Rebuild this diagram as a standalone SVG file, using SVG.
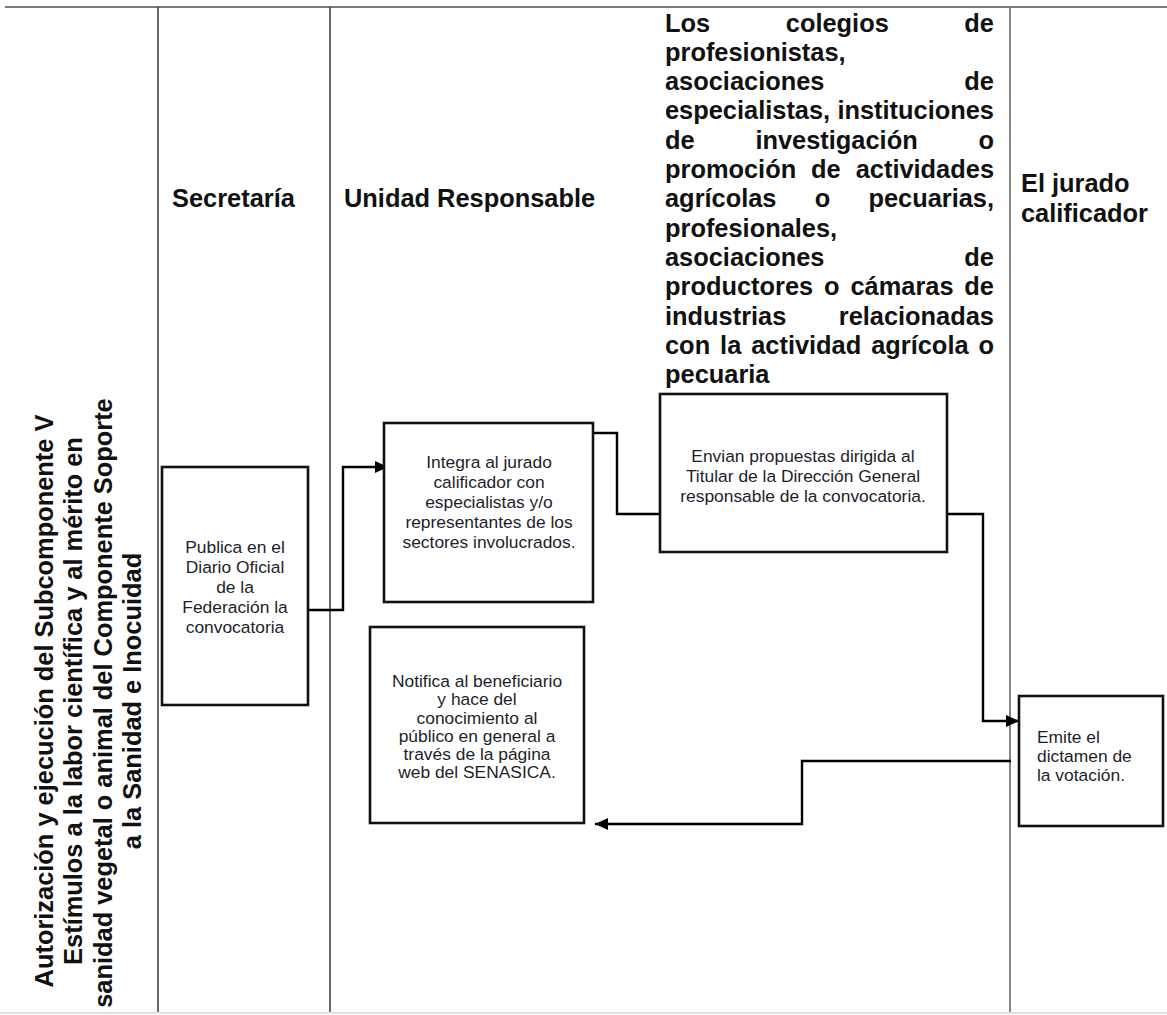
<svg xmlns="http://www.w3.org/2000/svg" width="1167" height="1015" viewBox="0 0 1167 1015">
  <style>
    .hdr { font-family: "Liberation Sans", Arial, sans-serif; font-size: 25.4px; font-weight: bold; fill: #111; }
    .lane { stroke: #444; stroke-width: 1.6; fill: none; }
    .lane2 { stroke: #7a7a7a; stroke-width: 1.8; fill: none; }
    .box { fill: #fff; stroke: #111; stroke-width: 2.6; }
    .txt { font-family: "Liberation Sans", Arial, sans-serif; font-size: 17.4px; fill: #1e1e2a; text-anchor: middle; }
    .txtl { font-family: "Liberation Sans", Arial, sans-serif; font-size: 17.4px; fill: #1e1e2a; }
    .conn { fill: none; stroke: #000; stroke-width: 2.4; }
  </style>
  <defs>
    <marker id="arrow" markerUnits="userSpaceOnUse" markerWidth="14" markerHeight="14" viewBox="0 0 14 14" refX="13" refY="7" orient="auto">
      <path d="M0,1 L13,7 L0,13 Z" fill="#000"/>
    </marker>
  </defs>
  <rect width="1167" height="1015" fill="#fff"/>

  <g id="grid">
    <line class="lane2" x1="5" y1="7" x2="1167" y2="7"/>
    <line class="lane" x1="158" y1="7" x2="158" y2="1013"/>
    <line class="lane" x1="330" y1="7" x2="330" y2="1013"/>
    <line class="lane2" x1="1010" y1="7" x2="1010" y2="1013"/>
    <line x1="0" y1="1013" x2="1167" y2="1013" stroke="#e2e2e2" stroke-width="2"/>
  </g>

  <g id="title" class="hdr" text-anchor="middle">
    <text transform="translate(53,701) rotate(-90)">Autorización y ejecución del Subcomponente V</text>
    <text transform="translate(82,701) rotate(-90)">Estímulos a la labor científica y al mérito en</text>
    <text transform="translate(112,703) rotate(-90)">sanidad vegetal o animal del Componente Soporte</text>
    <text transform="translate(141,701) rotate(-90)">a la Sanidad e Inocuidad</text>
  </g>

  <g id="header-secretaria">
    <text class="hdr" x="172" y="207">Secretaría</text>
  </g>
  <g id="header-unidad">
    <text class="hdr" x="344" y="207">Unidad Responsable</text>
  </g>
  <g id="header-colegios" class="hdr">
    <text x="665" y="31.5">Los</text><text x="785.8" y="31.5">colegios</text><text x="994" y="31.5" text-anchor="end">de</text>
    <text x="665" y="60.8">profesionistas,</text>
    <text x="665" y="90.1">asociaciones</text><text x="994" y="90.1" text-anchor="end">de</text>
    <text x="665" y="119.4">especialistas,</text><text x="994" y="119.4" text-anchor="end">instituciones</text>
    <text x="665" y="148.7">de</text><text x="755.4" y="148.7">investigación</text><text x="994" y="148.7" text-anchor="end">o</text>
    <text x="665" y="178">promoción</text><text x="811.1" y="178">de</text><text x="994" y="178" text-anchor="end">actividades</text>
    <text x="665" y="207.3">agrícolas</text><text x="814.7" y="207.3">o</text><text x="994" y="207.3" text-anchor="end">pecuarias,</text>
    <text x="665" y="236.6">profesionales,</text>
    <text x="665" y="265.9">asociaciones</text><text x="994" y="265.9" text-anchor="end">de</text>
    <text x="665" y="295.2">productores</text><text x="824.1" y="295.2">o</text><text x="850.5" y="295.2">cámaras</text><text x="994" y="295.2" text-anchor="end">de</text>
    <text x="665" y="324.5">industrias</text><text x="994" y="324.5" text-anchor="end">relacionadas</text>
    <text x="665" y="353.8">con</text><text x="720.1" y="353.8">la</text><text x="751.2" y="353.8">actividad</text><text x="871.2" y="353.8">agrícola</text><text x="994" y="353.8" text-anchor="end">o</text>
    <text x="665" y="383.1">pecuaria</text>
  </g>
  <g id="header-jurado" class="hdr">
    <text x="1021" y="192">El jurado</text>
    <text x="1021" y="222">calificador</text>
  </g>

  <g id="connectors">
    <path class="conn" d="M308,610 H343 V467 H388" marker-end="url(#arrow)"/>
    <path class="conn" d="M593,433 H617 V514 H682" marker-end="url(#arrow)"/>
    <path class="conn" d="M947,514 H983 V721 H1019" marker-end="url(#arrow)"/>
    <path class="conn" d="M1011,761 H802 V824 H595" marker-end="url(#arrow)"/>
  </g>

  <g id="node-publica">
    <rect class="box" x="162" y="467" width="146" height="238"/>
    <text class="txt" x="235" y="553">Publica en el</text>
    <text class="txt" x="235" y="573">Diario Oficial</text>
    <text class="txt" x="235" y="593">de la</text>
    <text class="txt" x="235" y="613">Federación la</text>
    <text class="txt" x="235" y="633">convocatoria</text>
  </g>

  <g id="node-integra">
    <rect class="box" x="384" y="423" width="209" height="179"/>
    <text class="txt" x="489" y="468">Integra al jurado</text>
    <text class="txt" x="489" y="488">calificador con</text>
    <text class="txt" x="489" y="508">especialistas y/o</text>
    <text class="txt" x="489" y="528">representantes de los</text>
    <text class="txt" x="489" y="548">sectores involucrados.</text>
  </g>

  <g id="node-envian">
    <rect class="box" x="660" y="394" width="287" height="158"/>
    <text class="txt" x="803" y="462">Envian propuestas dirigida al</text>
    <text class="txt" x="803" y="482">Titular de la Dirección General</text>
    <text class="txt" x="803" y="502">responsable de la convocatoria.</text>
  </g>

  <g id="node-notifica">
    <rect class="box" x="370" y="627" width="214" height="196"/>
    <text class="txt" x="477" y="687">Notifica al beneficiario</text>
    <text class="txt" x="477" y="705">y hace del</text>
    <text class="txt" x="477" y="723.5">conocimiento al</text>
    <text class="txt" x="477" y="742">público en general a</text>
    <text class="txt" x="477" y="760">través de la página</text>
    <text class="txt" x="477" y="778">web del SENASICA.</text>
  </g>

  <g id="node-emite">
    <rect class="box" x="1019" y="696" width="144" height="130"/>
    <text class="txtl" x="1037" y="743">Emite el</text>
    <text class="txtl" x="1037" y="762">dictamen de</text>
    <text class="txtl" x="1037" y="781">la votación.</text>
  </g>
</svg>
